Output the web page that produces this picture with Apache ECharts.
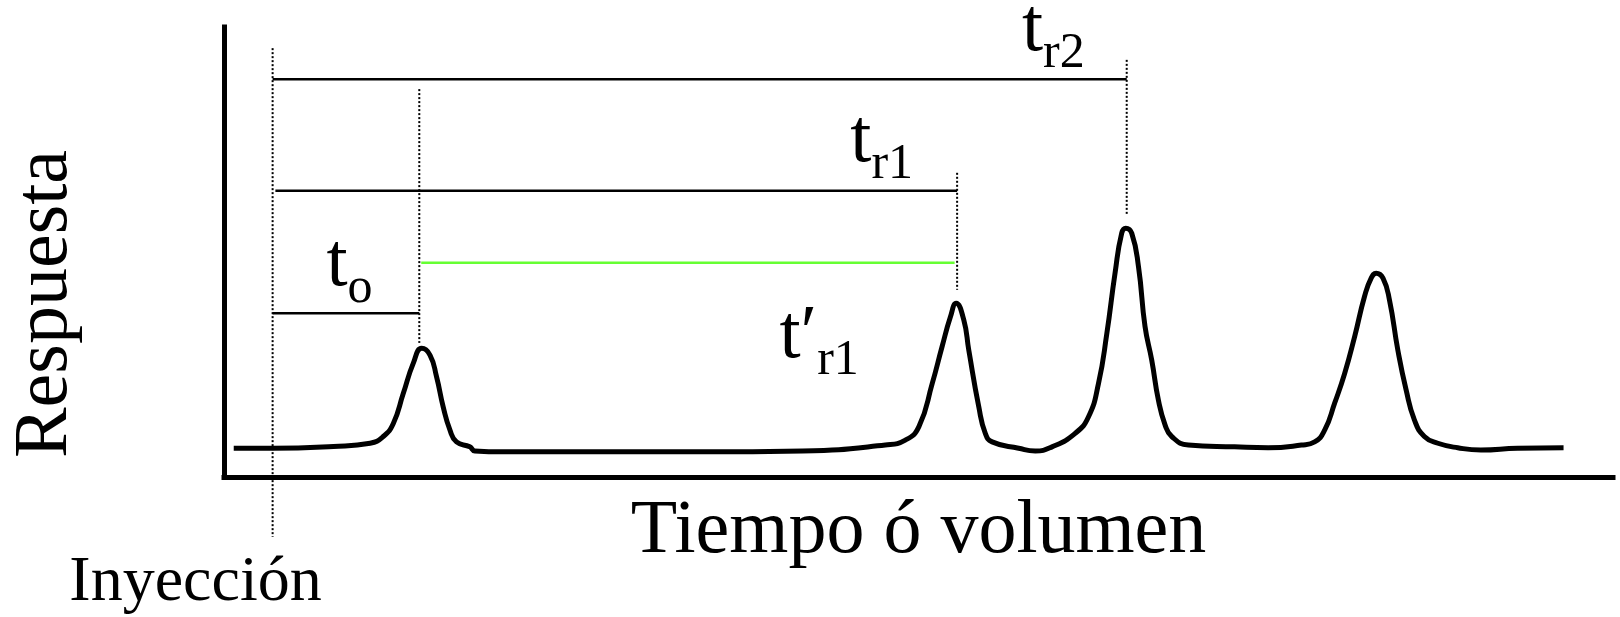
<!DOCTYPE html>
<html>
<head>
<meta charset="utf-8">
<script src="https://cdn.jsdelivr.net/npm/echarts@6/dist/echarts.min.js"></script>
<style>
  html, body { margin: 0; padding: 0; background: #fff; }
  #chart { width: 1620px; height: 617px; }
</style>
</head>
<body>
<div id="chart"></div>
<script>
  // tiempo desde la inyección (unidades arbitrarias) y respuesta del detector
  const chromTime = [
    -2.8, 0, 4.38, 7.02, 7.97, 8.69, 9.41, 10.13, 10.73, 11.33, 11.8, 12.28, 12.77, 13.24, 14.2, 14.56,
    16.6, 23.78, 30.96, 38.15, 44.11, 45.55, 46.53, 47.49, 48.2, 48.8, 49.21, 49.76, 50.12, 50.84,
    51.31, 51.8, 53.71, 54.91, 56.11, 57.78, 58.74, 59.46, 60.06, 60.65, 61.13, 61.42, 61.85, 62.34,
    62.81, 63.29, 63.77, 64.25, 64.73, 65.93, 69.25, 71.67, 74.07, 75.02, 75.74, 76.46, 77.18, 77.9,
    78.61, 79.09, 79.45, 79.94, 80.41, 81.01, 81.61, 82.2, 82.92, 83.89, 85.32, 86.99, 89.63, 92.94
  ]
  const chromSignal = [
    6.4, 6.4, 6.8, 7.5, 9.0, 11.9, 18.6, 25.3, 28.6, 27.1, 22.3, 15.6, 10.4, 7.8, 6.7, 5.8,
    5.6, 5.6, 5.6, 5.8, 7.1, 8.2, 11.2, 20.8, 29.0, 35.6, 38.6, 34.9, 28.2, 15.6,
    9.7, 7.8, 6.4, 5.8, 6.7, 9.7, 13.4, 20.8, 31.9, 45.3, 54.2, 55.3, 54.2, 46.7,
    33.4, 26.0, 17.1, 11.6, 9.0, 7.1, 6.7, 6.5, 7.1, 7.8, 10.4, 16.4, 23.0, 31.2,
    40.1, 44.2, 45.3, 44.2, 39.3, 28.2, 19.3, 12.7, 9.0, 7.5, 6.5, 6.0, 6.4, 6.5
  ]

  // líneas verticales punteadas: inyección, t0, tr1, tr2
  const guideTime = [0, 10.56, 49.28, 61.49]
  const guideTop = [95.3, 86.2, 67.6, 92.7]
  const guideBottom = [-13.3, 29.8, 41.6, 58.2]

  // segmentos horizontales de tiempo
  const spanNames = ['tr2', 'tr1', "t'r1", 't0']
  const spanStart = [0, 0.2, 10.7, 0]
  const spanEnd = [61.49, 49.28, 49.1, 10.56]
  const spanLevel = [88.4, 63.6, 47.6, 36.4]

  // etiquetas
  const labelMain = ['t', 't', 't', 't′']
  const labelSub = ['o', 'r1', 'r2', 'r1']
  const labelTime = [3.88, 41.59, 53.95, 36.49]
  const labelLevel = [47.2, 74.6, 99.3, 31.2]

  const injectionText = 'Inyección'
  const injectionPos = [-5.55, -23.5]

  const xName = 'Tiempo ó volumen'
  const yName = 'Respuesta'

  const serif = "Liberation Serif"

  const chart = echarts.init(document.getElementById('chart'))

  const series = []

  series.push({
    type: 'line',
    data: chromTime.map((t, i) => [t, chromSignal[i]]),
    symbol: 'none',
    smooth: 0.5,
    lineStyle: { color: '#000', width: 5, join: 'round' },
    z: 5,
  })

  guideTime.forEach((t, i) => {
    series.push({
      type: 'line',
      data: [[t, guideTop[i]], [t, guideBottom[i]]],
      symbol: 'none',
      clip: false,
      lineStyle: { color: '#000', width: 2, type: [2, 2] },
      z: 3,
    })
  })

  spanNames.forEach((name, i) => {
    series.push({
      type: 'line',
      name,
      data: [[spanStart[i], spanLevel[i]], [spanEnd[i], spanLevel[i]]],
      symbol: 'none',
      clip: false,
      lineStyle: { color: name === "t'r1" ? '#66ff33' : '#000', width: 2.5 },
      z: 4,
    })
  })

  const plainLabel = {
    show: true,
    position: [0, 0],
    verticalAlign: 'middle',
    color: '#000',
    opacity: 1,
    fontFamily: serif,
    textBorderWidth: 0,
    textShadowBlur: 0,
  }

  series.push({
    type: 'scatter',
    symbolSize: 0,
    clip: false,
    silent: true,
    itemStyle: { opacity: 1 },
    data: labelMain.map((m, i) => ({
      value: [labelTime[i], labelLevel[i]],
      label: { formatter: `{m|${m}}{s|${labelSub[i]}}` },
    })),
    label: {
      ...plainLabel,
      align: 'left',
      fontSize: 76,
      rich: {
        m: { fontFamily: serif, fontSize: 76, lineHeight: 80, color: '#000' },
        s: { fontFamily: serif, fontSize: 50, lineHeight: 20, padding: [48, 0, 0, 0], color: '#000' },
      },
    },
  })

  series.push({
    type: 'scatter',
    symbolSize: 0,
    clip: false,
    silent: true,
    itemStyle: { opacity: 1 },
    data: [injectionPos],
    label: {
      ...plainLabel,
      align: 'center',
      formatter: injectionText,
      fontSize: 64,
    },
  })

  chart.setOption({
    animation: false,
    backgroundColor: '#fff',
    grid: { left: 221, right: 7, top: 27, bottom: 140 },
    xAxis: {
      type: 'value',
      min: -3.5,
      max: 96.5,
      name: xName,
      nameLocation: 'middle',
      nameGap: 17,
      nameTextStyle: { fontFamily: serif, fontSize: 76, color: '#000' },
      axisLine: { onZero: false, lineStyle: { color: '#000', width: 5, cap: 'square' } },
      axisTick: { show: false },
      axisLabel: { show: false },
      splitLine: { show: false },
    },
    yAxis: {
      type: 'value',
      min: 0,
      max: 100,
      name: yName,
      nameLocation: 'middle',
      nameGap: 140,
      nameTextStyle: { fontFamily: serif, fontSize: 76, color: '#000', padding: [0, 104, 0, 0] },
      axisLine: { show: true, onZero: false, lineStyle: { color: '#000', width: 5, cap: 'square' } },
      axisTick: { show: false },
      axisLabel: { show: false },
      splitLine: { show: false },
    },
    series,
  })
</script>
</body>
</html>
